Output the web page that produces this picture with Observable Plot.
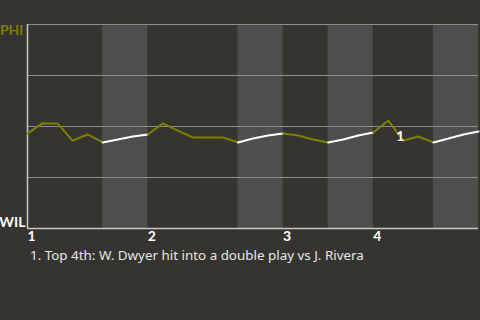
<!DOCTYPE html>
<html>
<head>
<meta charset="utf-8">
<script src="https://cdn.jsdelivr.net/npm/d3@7"></script>
<script src="https://cdn.jsdelivr.net/npm/@observablehq/plot@0.6"></script>
<style>
  html, body { margin: 0; padding: 0; background: #363430; width: 480px; height: 320px; overflow: hidden; }
  #chart svg { display: block; }
  #caption { font-family: "Noto Sans", sans-serif; font-size: 13.4px; color: #e6e6e6; padding-left: 30px; line-height: 16px; margin-top: -3px; }
</style>
</head>
<body>
<div id="chart"></div>
<div id="caption"></div>
<script>
// Win probability (share toward PHI, 0 = WIL, 1 = PHI) by plate appearance
const winProb = [0.466, 0.515, 0.515, 0.431, 0.461, 0.422, 0.436, 0.451, 0.461, 0.515,
                 0.480, 0.446, 0.446, 0.446, 0.422, 0.441, 0.456, 0.466, 0.456, 0.436,
                 0.422, 0.436, 0.456, 0.471, 0.529, 0.431, 0.451, 0.422, 0.441, 0.461, 0.475];
const halfInnings = ["Top 1st", "Bot 1st", "Top 2nd", "Bot 2nd", "Top 3rd", "Bot 3rd", "Top 4th", "Bot 4th"];
const halfEnds = [5, 8, 14, 17, 20, 23, 27, 30];
const inningLabels = ["1", "2", "3", "4"];
const inningStarts = [0, 8, 17, 23];
const teams = ["PHI", "WIL"];
const notes = ["1"];
const noteEvents = [25];
const captionText = ["1. Top 4th: W. Dwyer hit into a double play vs J. Rivera"];

const olive = "#808000";
const bandColor = "#4f4e4c";

// build line table: each half-inning from previous end to its end
const lineData = [];
let start = 0;
halfInnings.forEach((h, k) => {
  for (let i = start; i <= halfEnds[k]; i++) {
    lineData.push({i, p: winProb[i], half: h, top: k % 2 === 0});
  }
  start = halfEnds[k];
});
const bands = halfInnings.map((h, k) => ({h, x1: k === 0 ? 0 : halfEnds[k - 1], x2: halfEnds[k]}))
  .filter((d, k) => k % 2 === 1);
const noteData = notes.map((t, k) => ({t, i: noteEvents[k], p: winProb[noteEvents[k]]}));

const fontFam = "'Noto Sans', sans-serif";
const labelFont = "Lato, sans-serif";
const chart = Plot.plot({
  width: 480,
  height: 250,
  marginTop: 24,
  marginBottom: 22,
  marginLeft: 27,
  marginRight: 2,
  style: {background: "transparent", fontFamily: fontFam},
  x: {domain: [0, 30]},
  y: {domain: [0, 1]},
  marks: [
    Plot.rect(bands, {x1: "x1", x2: "x2", fill: bandColor}),
    Plot.ruleY([0.25, 0.5, 0.75, 1], {stroke: "#8e8d8b", strokeWidth: 1}),
    Plot.ruleY([0], {stroke: "#c8c8c8", strokeWidth: 1.5}),
    Plot.ruleX([0], {stroke: "#c8c8c8", strokeWidth: 1.5}),
    Plot.line(lineData, {x: "i", y: "p", z: "half", stroke: d => d.top ? olive : "#ffffff", strokeWidth: 2, strokeLinejoin: "miter"}),
    Plot.text(noteData, {x: "i", y: "p", text: "t", fill: "#ffffff", fontWeight: "bold", fontSize: 14, fontFamily: labelFont, dx: -3, dy: -4}),
    Plot.text([teams[0]], {x: 0, y: 1, text: d => d, textAnchor: "end", dx: -4, dy: 6, fill: olive, fontWeight: "bold", fontSize: 14, fontFamily: labelFont}),
    Plot.text([teams[1]], {x: 0, y: 0, text: d => d, textAnchor: "end", dx: -2, dy: -6, fill: "#ffffff", fontWeight: "bold", fontSize: 14, fontFamily: labelFont}),
    Plot.axisX({ticks: inningStarts, tickFormat: d => inningLabels[inningStarts.indexOf(d)], textAnchor: "start", tickSize: 0, tickPadding: 3, fill: "#ffffff", fontWeight: "bold", fontSize: 14, fontFamily: labelFont, label: null}),
    Plot.axisY({ticks: [], label: null})
  ]
});
document.getElementById("chart").appendChild(chart);
document.getElementById("caption").textContent = captionText[0];
</script>
</body>
</html>
